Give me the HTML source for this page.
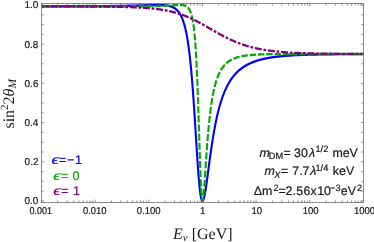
<!DOCTYPE html>
<html><head><meta charset="utf-8"><style>
html,body{margin:0;padding:0;background:#fff;}
svg{display:block;will-change:transform;opacity:0.999;font-family:"Liberation Sans",sans-serif;text-rendering:geometricPrecision;}
</style></head><body>
<svg width="374" height="242" viewBox="0 0 374 242">
<rect width="374" height="242" fill="#fff"/>
<defs><clipPath id="cp"><rect x="41.5" y="3.5" width="322.0" height="199.0"/></clipPath></defs>
<g clip-path="url(#cp)"><g transform="scale(1,1.1)" fill="none" stroke-width="2.1" stroke-linejoin="round">
<path d="M41.50,5.78 L41.84,5.78 L42.17,5.78 L42.51,5.78 L42.84,5.78 L43.18,5.78 L43.51,5.78 L43.85,5.78 L44.18,5.78 L44.52,5.78 L44.85,5.78 L45.19,5.78 L45.53,5.78 L45.86,5.78 L46.20,5.77 L46.53,5.77 L46.87,5.77 L47.20,5.77 L47.54,5.77 L47.87,5.77 L48.21,5.77 L48.54,5.77 L48.88,5.77 L49.21,5.77 L49.55,5.77 L49.89,5.77 L50.22,5.77 L50.56,5.77 L50.89,5.77 L51.23,5.77 L51.56,5.77 L51.90,5.77 L52.23,5.77 L52.57,5.77 L52.90,5.77 L53.24,5.77 L53.58,5.77 L53.91,5.77 L54.25,5.77 L54.58,5.77 L54.92,5.77 L55.25,5.77 L55.59,5.77 L55.92,5.77 L56.26,5.77 L56.59,5.77 L56.93,5.76 L57.26,5.76 L57.60,5.76 L57.94,5.76 L58.27,5.76 L58.61,5.76 L58.94,5.76 L59.28,5.76 L59.61,5.76 L59.95,5.76 L60.28,5.76 L60.62,5.76 L60.95,5.76 L61.29,5.76 L61.62,5.76 L61.96,5.76 L62.30,5.76 L62.63,5.76 L62.97,5.76 L63.30,5.76 L63.64,5.76 L63.97,5.75 L64.31,5.75 L64.64,5.75 L64.98,5.75 L65.31,5.75 L65.65,5.75 L65.99,5.75 L66.32,5.75 L66.66,5.75 L66.99,5.75 L67.33,5.75 L67.66,5.75 L68.00,5.75 L68.33,5.75 L68.67,5.75 L69.00,5.75 L69.34,5.74 L69.67,5.74 L70.01,5.74 L70.35,5.74 L70.68,5.74 L71.02,5.74 L71.35,5.74 L71.69,5.74 L72.02,5.74 L72.36,5.74 L72.69,5.74 L73.03,5.74 L73.36,5.74 L73.70,5.74 L74.04,5.73 L74.37,5.73 L74.71,5.73 L75.04,5.73 L75.38,5.73 L75.71,5.73 L76.05,5.73 L76.38,5.73 L76.72,5.73 L77.05,5.73 L77.39,5.73 L77.72,5.72 L78.06,5.72 L78.40,5.72 L78.73,5.72 L79.07,5.72 L79.40,5.72 L79.74,5.72 L80.07,5.72 L80.41,5.72 L80.74,5.72 L81.08,5.71 L81.41,5.71 L81.75,5.71 L82.09,5.71 L82.42,5.71 L82.76,5.71 L83.09,5.71 L83.43,5.71 L83.76,5.70 L84.10,5.70 L84.43,5.70 L84.77,5.70 L85.10,5.70 L85.44,5.70 L85.78,5.70 L86.11,5.70 L86.45,5.69 L86.78,5.69 L87.12,5.69 L87.45,5.69 L87.79,5.69 L88.12,5.69 L88.46,5.69 L88.79,5.68 L89.13,5.68 L89.46,5.68 L89.80,5.68 L90.14,5.68 L90.47,5.68 L90.81,5.67 L91.14,5.67 L91.48,5.67 L91.81,5.67 L92.15,5.67 L92.48,5.67 L92.82,5.66 L93.15,5.66 L93.49,5.66 L93.83,5.66 L94.16,5.66 L94.50,5.65 L94.83,5.65 L95.17,5.65 L95.50,5.65 L95.84,5.65 L96.17,5.64 L96.51,5.64 L96.84,5.64 L97.18,5.64 L97.51,5.64 L97.85,5.63 L98.19,5.63 L98.52,5.63 L98.86,5.63 L99.19,5.62 L99.53,5.62 L99.86,5.62 L100.20,5.62 L100.53,5.61 L100.87,5.61 L101.20,5.61 L101.54,5.61 L101.88,5.60 L102.21,5.60 L102.55,5.60 L102.88,5.60 L103.22,5.59 L103.55,5.59 L103.89,5.59 L104.22,5.58 L104.56,5.58 L104.89,5.58 L105.23,5.58 L105.56,5.57 L105.90,5.57 L106.24,5.57 L106.57,5.56 L106.91,5.56 L107.24,5.56 L107.58,5.55 L107.91,5.55 L108.25,5.55 L108.58,5.54 L108.92,5.54 L109.25,5.54 L109.59,5.53 L109.92,5.53 L110.26,5.52 L110.60,5.52 L110.93,5.52 L111.27,5.51 L111.60,5.51 L111.94,5.51 L112.27,5.50 L112.61,5.50 L112.94,5.49 L113.28,5.49 L113.61,5.49 L113.95,5.48 L114.29,5.48 L114.62,5.47 L114.96,5.47 L115.29,5.46 L115.63,5.46 L115.96,5.45 L116.30,5.45 L116.63,5.45 L116.97,5.44 L117.30,5.44 L117.64,5.43 L117.97,5.43 L118.31,5.42 L118.65,5.42 L118.98,5.41 L119.32,5.41 L119.65,5.40 L119.99,5.40 L120.32,5.39 L120.66,5.38 L120.99,5.38 L121.33,5.37 L121.66,5.37 L122.00,5.36 L122.34,5.36 L122.67,5.35 L123.01,5.34 L123.34,5.34 L123.68,5.33 L124.01,5.33 L124.35,5.32 L124.68,5.31 L125.02,5.31 L125.35,5.30 L125.69,5.29 L126.03,5.29 L126.36,5.28 L126.70,5.27 L127.03,5.27 L127.37,5.26 L127.70,5.25 L128.04,5.25 L128.37,5.24 L128.71,5.23 L129.04,5.23 L129.38,5.22 L129.71,5.21 L130.05,5.20 L130.39,5.20 L130.72,5.19 L131.06,5.18 L131.39,5.17 L131.73,5.17 L132.06,5.16 L132.40,5.15 L132.73,5.14 L133.07,5.13 L133.40,5.13 L133.74,5.12 L134.07,5.11 L134.41,5.10 L134.75,5.09 L135.08,5.08 L135.42,5.07 L135.75,5.07 L136.09,5.06 L136.42,5.05 L136.76,5.04 L137.09,5.03 L137.43,5.02 L137.76,5.01 L138.10,5.00 L138.44,4.99 L138.77,4.98 L139.11,4.98 L139.44,4.97 L139.78,4.96 L140.11,4.95 L140.45,4.94 L140.78,4.93 L141.12,4.92 L141.45,4.91 L141.79,4.90 L142.12,4.89 L142.46,4.88 L142.80,4.87 L143.13,4.86 L143.47,4.85 L143.80,4.84 L144.14,4.83 L144.47,4.82 L144.81,4.81 L145.14,4.80 L145.48,4.79 L145.81,4.78 L146.15,4.77 L146.49,4.76 L146.82,4.75 L147.16,4.74 L147.49,4.73 L147.83,4.72 L148.16,4.72 L148.50,4.71 L148.83,4.70 L149.17,4.69 L149.50,4.68 L149.84,4.67 L150.18,4.66 L150.51,4.65 L150.85,4.64 L151.18,4.64 L151.52,4.63 L151.85,4.62 L152.19,4.61 L152.52,4.61 L152.86,4.60 L153.19,4.59 L153.53,4.59 L153.86,4.58 L154.20,4.58 L154.54,4.57 L154.87,4.57 L155.21,4.56 L155.54,4.56 L155.88,4.55 L156.21,4.55 L156.55,4.55 L156.88,4.55 L157.22,4.55 L157.55,4.55 L157.89,4.55 L158.23,4.55 L158.56,4.55 L158.90,4.55 L159.23,4.56 L159.57,4.56 L159.90,4.57 L160.24,4.57 L160.57,4.58 L160.91,4.59 L161.24,4.60 L161.58,4.61 L161.91,4.62 L162.25,4.64 L162.59,4.65 L162.92,4.67 L163.26,4.69 L163.59,4.71 L163.93,4.73 L164.26,4.76 L164.60,4.79 L164.93,4.82 L165.27,4.85 L165.60,4.88 L165.94,4.92 L166.28,4.96 L166.61,5.00 L166.95,5.05 L167.28,5.10 L167.62,5.15 L167.95,5.21 L168.29,5.27 L168.62,5.33 L168.96,5.40 L169.29,5.47 L169.63,5.55 L169.96,5.63 L170.30,5.72 L170.64,5.82 L170.97,5.92 L171.31,6.02 L171.64,6.14 L171.98,6.26 L172.31,6.38 L172.65,6.52 L172.98,6.66 L173.32,6.82 L173.65,6.98 L173.99,7.15 L174.32,7.33 L174.66,7.52 L175.00,7.73 L175.33,7.95 L175.67,8.18 L176.00,8.42 L176.34,8.68 L176.67,8.95 L177.01,9.24 L177.34,9.55 L177.68,9.88 L178.01,10.22 L178.35,10.59 L178.69,10.98 L179.02,11.39 L179.36,11.83 L179.69,12.29 L180.03,12.78 L180.36,13.30 L180.70,13.85 L181.03,14.43 L181.37,15.05 L181.70,15.71 L182.04,16.40 L182.38,17.14 L182.71,17.93 L183.05,18.76 L183.38,19.64 L183.72,20.57 L184.05,21.56 L184.39,22.61 L184.72,23.72 L185.06,24.90 L185.39,26.15 L185.73,27.48 L186.06,28.89 L186.40,30.38 L186.74,31.96 L187.07,33.63 L187.41,35.40 L187.74,37.28 L188.08,39.26 L188.41,41.36 L188.75,43.58 L189.08,45.93 L189.42,48.40 L189.75,51.01 L190.09,53.76 L190.43,56.65 L190.76,59.70 L191.10,62.89 L191.43,66.24 L191.77,69.74 L192.10,73.40 L192.44,77.21 L192.77,81.18 L193.11,85.29 L193.44,89.54 L193.78,93.93 L194.11,98.44 L194.45,103.06 L194.79,107.77 L195.12,112.56 L195.46,117.40 L195.79,122.27 L196.13,127.14 L196.46,131.98 L196.80,136.77 L197.13,141.46 L197.47,146.04 L197.80,150.46 L198.14,154.69 L198.47,158.71 L198.81,162.48 L199.15,165.97 L199.48,169.17 L199.82,172.04 L200.15,174.59 L200.49,176.79 L200.82,178.64 L201.16,180.14 L201.49,181.29 L201.83,182.10 L202.16,182.57 L202.50,182.73 L202.84,182.58 L203.17,182.15 L203.51,181.45 L203.84,180.51 L204.18,179.35 L204.51,177.99 L204.85,176.45 L205.18,174.76 L205.52,172.93 L205.85,170.99 L206.19,168.95 L206.53,166.83 L206.86,164.65 L207.20,162.41 L207.53,160.15 L207.87,157.86 L208.20,155.55 L208.54,153.25 L208.87,150.95 L209.21,148.66 L209.54,146.39 L209.88,144.14 L210.21,141.92 L210.55,139.74 L210.89,137.59 L211.22,135.48 L211.56,133.41 L211.89,131.38 L212.23,129.39 L212.56,127.45 L212.90,125.56 L213.23,123.71 L213.57,121.90 L213.90,120.14 L214.24,118.43 L214.57,116.76 L214.91,115.13 L215.25,113.55 L215.58,112.01 L215.92,110.51 L216.25,109.05 L216.59,107.63 L216.92,106.25 L217.26,104.91 L217.59,103.61 L217.93,102.34 L218.26,101.11 L218.60,99.91 L218.94,98.75 L219.27,97.61 L219.61,96.51 L219.94,95.44 L220.28,94.40 L220.61,93.39 L220.95,92.40 L221.28,91.44 L221.62,90.51 L221.95,89.60 L222.29,88.72 L222.62,87.86 L222.96,87.02 L223.30,86.21 L223.63,85.42 L223.97,84.65 L224.30,83.89 L224.64,83.16 L224.97,82.45 L225.31,81.75 L225.64,81.08 L225.98,80.42 L226.31,79.78 L226.65,79.15 L226.99,78.54 L227.32,77.94 L227.66,77.36 L227.99,76.80 L228.33,76.24 L228.66,75.70 L229.00,75.18 L229.33,74.66 L229.67,74.16 L230.00,73.67 L230.34,73.20 L230.68,72.73 L231.01,72.28 L231.35,71.83 L231.68,71.40 L232.02,70.97 L232.35,70.56 L232.69,70.15 L233.02,69.76 L233.36,69.37 L233.69,68.99 L234.03,68.62 L234.36,68.26 L234.70,67.91 L235.04,67.56 L235.37,67.22 L235.71,66.89 L236.04,66.57 L236.38,66.25 L236.71,65.94 L237.05,65.64 L237.38,65.34 L237.72,65.05 L238.05,64.77 L238.39,64.49 L238.72,64.22 L239.06,63.95 L239.40,63.69 L239.73,63.43 L240.07,63.18 L240.40,62.93 L240.74,62.69 L241.07,62.46 L241.41,62.23 L241.74,62.00 L242.08,61.78 L242.41,61.56 L242.75,61.35 L243.09,61.14 L243.42,60.93 L243.76,60.73 L244.09,60.53 L244.43,60.34 L244.76,60.15 L245.10,59.96 L245.43,59.78 L245.77,59.60 L246.10,59.43 L246.44,59.25 L246.78,59.09 L247.11,58.92 L247.45,58.76 L247.78,58.60 L248.12,58.44 L248.45,58.29 L248.79,58.14 L249.12,57.99 L249.46,57.84 L249.79,57.70 L250.13,57.56 L250.46,57.42 L250.80,57.29 L251.14,57.15 L251.47,57.02 L251.81,56.89 L252.14,56.77 L252.48,56.65 L252.81,56.52 L253.15,56.40 L253.48,56.29 L253.82,56.17 L254.15,56.06 L254.49,55.95 L254.82,55.84 L255.16,55.73 L255.50,55.63 L255.83,55.52 L256.17,55.42 L256.50,55.32 L256.84,55.22 L257.17,55.13 L257.51,55.03 L257.84,54.94 L258.18,54.85 L258.51,54.76 L258.85,54.67 L259.19,54.58 L259.52,54.50 L259.86,54.41 L260.19,54.33 L260.53,54.25 L260.86,54.17 L261.20,54.09 L261.53,54.01 L261.87,53.94 L262.20,53.86 L262.54,53.79 L262.88,53.71 L263.21,53.64 L263.55,53.57 L263.88,53.50 L264.22,53.44 L264.55,53.37 L264.89,53.30 L265.22,53.24 L265.56,53.18 L265.89,53.11 L266.23,53.05 L266.56,52.99 L266.90,52.93 L267.24,52.87 L267.57,52.82 L267.91,52.76 L268.24,52.71 L268.58,52.65 L268.91,52.60 L269.25,52.54 L269.58,52.49 L269.92,52.44 L270.25,52.39 L270.59,52.34 L270.93,52.29 L271.26,52.24 L271.60,52.19 L271.93,52.15 L272.27,52.10 L272.60,52.06 L272.94,52.01 L273.27,51.97 L273.61,51.93 L273.94,51.88 L274.28,51.84 L274.61,51.80 L274.95,51.76 L275.29,51.72 L275.62,51.68 L275.96,51.64 L276.29,51.60 L276.63,51.57 L276.96,51.53 L277.30,51.49 L277.63,51.46 L277.97,51.42 L278.30,51.39 L278.64,51.35 L278.97,51.32 L279.31,51.29 L279.65,51.25 L279.98,51.22 L280.32,51.19 L280.65,51.16 L280.99,51.13 L281.32,51.10 L281.66,51.07 L281.99,51.04 L282.33,51.01 L282.66,50.98 L283.00,50.96 L283.34,50.93 L283.67,50.90 L284.01,50.87 L284.34,50.85 L284.68,50.82 L285.01,50.80 L285.35,50.77 L285.68,50.75 L286.02,50.72 L286.35,50.70 L286.69,50.67 L287.02,50.65 L287.36,50.63 L287.70,50.61 L288.03,50.58 L288.37,50.56 L288.70,50.54 L289.04,50.52 L289.37,50.50 L289.71,50.48 L290.04,50.46 L290.38,50.44 L290.71,50.42 L291.05,50.40 L291.39,50.38 L291.72,50.36 L292.06,50.34 L292.39,50.32 L292.73,50.31 L293.06,50.29 L293.40,50.27 L293.73,50.25 L294.07,50.24 L294.40,50.22 L294.74,50.20 L295.08,50.19 L295.41,50.17 L295.75,50.16 L296.08,50.14 L296.42,50.12 L296.75,50.11 L297.09,50.09 L297.42,50.08 L297.76,50.07 L298.09,50.05 L298.43,50.04 L298.76,50.02 L299.10,50.01 L299.44,50.00 L299.77,49.98 L300.11,49.97 L300.44,49.96 L300.78,49.95 L301.11,49.93 L301.45,49.92 L301.78,49.91 L302.12,49.90 L302.45,49.89 L302.79,49.87 L303.12,49.86 L303.46,49.85 L303.80,49.84 L304.13,49.83 L304.47,49.82 L304.80,49.81 L305.14,49.80 L305.47,49.79 L305.81,49.78 L306.14,49.77 L306.48,49.76 L306.81,49.75 L307.15,49.74 L307.49,49.73 L307.82,49.72 L308.16,49.71 L308.49,49.70 L308.83,49.69 L309.16,49.68 L309.50,49.68 L309.83,49.67 L310.17,49.66 L310.50,49.65 L310.84,49.64 L311.18,49.64 L311.51,49.63 L311.85,49.62 L312.18,49.61 L312.52,49.60 L312.85,49.60 L313.19,49.59 L313.52,49.58 L313.86,49.58 L314.19,49.57 L314.53,49.56 L314.86,49.55 L315.20,49.55 L315.54,49.54 L315.87,49.54 L316.21,49.53 L316.54,49.52 L316.88,49.52 L317.21,49.51 L317.55,49.50 L317.88,49.50 L318.22,49.49 L318.55,49.49 L318.89,49.48 L319.23,49.48 L319.56,49.47 L319.90,49.46 L320.23,49.46 L320.57,49.45 L320.90,49.45 L321.24,49.44 L321.57,49.44 L321.91,49.43 L322.24,49.43 L322.58,49.42 L322.91,49.42 L323.25,49.41 L323.59,49.41 L323.92,49.40 L324.26,49.40 L324.59,49.40 L324.93,49.39 L325.26,49.39 L325.60,49.38 L325.93,49.38 L326.27,49.37 L326.60,49.37 L326.94,49.37 L327.27,49.36 L327.61,49.36 L327.95,49.35 L328.28,49.35 L328.62,49.35 L328.95,49.34 L329.29,49.34 L329.62,49.34 L329.96,49.33 L330.29,49.33 L330.63,49.33 L330.96,49.32 L331.30,49.32 L331.64,49.32 L331.97,49.31 L332.31,49.31 L332.64,49.31 L332.98,49.30 L333.31,49.30 L333.65,49.30 L333.98,49.29 L334.32,49.29 L334.65,49.29 L334.99,49.29 L335.32,49.28 L335.66,49.28 L336.00,49.28 L336.33,49.27 L336.67,49.27 L337.00,49.27 L337.34,49.27 L337.67,49.26 L338.01,49.26 L338.34,49.26 L338.68,49.26 L339.01,49.25 L339.35,49.25 L339.69,49.25 L340.02,49.25 L340.36,49.25 L340.69,49.24 L341.03,49.24 L341.36,49.24 L341.70,49.24 L342.03,49.23 L342.37,49.23 L342.70,49.23 L343.04,49.23 L343.38,49.23 L343.71,49.22 L344.05,49.22 L344.38,49.22 L344.72,49.22 L345.05,49.22 L345.39,49.22 L345.72,49.21 L346.06,49.21 L346.39,49.21 L346.73,49.21 L347.06,49.21 L347.40,49.21 L347.74,49.20 L348.07,49.20 L348.41,49.20 L348.74,49.20 L349.08,49.20 L349.41,49.20 L349.75,49.19 L350.08,49.19 L350.42,49.19 L350.75,49.19 L351.09,49.19 L351.43,49.19 L351.76,49.19 L352.10,49.18 L352.43,49.18 L352.77,49.18 L353.10,49.18 L353.44,49.18 L353.77,49.18 L354.11,49.18 L354.44,49.18 L354.78,49.17 L355.11,49.17 L355.45,49.17 L355.79,49.17 L356.12,49.17 L356.46,49.17 L356.79,49.17 L357.13,49.17 L357.46,49.16 L357.80,49.16 L358.13,49.16 L358.47,49.16 L358.80,49.16 L359.14,49.16 L359.48,49.16 L359.81,49.16 L360.15,49.16 L360.48,49.16 L360.82,49.16 L361.15,49.15 L361.49,49.15 L361.82,49.15 L362.16,49.15 L362.49,49.15 L362.83,49.15 L363.16,49.15 L363.50,49.15" stroke="#0000ff"/>
<path d="M41.50,5.79 L41.84,5.79 L42.17,5.79 L42.51,5.79 L42.84,5.79 L43.18,5.79 L43.51,5.79 L43.85,5.79 L44.18,5.79 L44.52,5.79 L44.85,5.79 L45.19,5.79 L45.53,5.79 L45.86,5.79 L46.20,5.79 L46.53,5.79 L46.87,5.79 L47.20,5.79 L47.54,5.79 L47.87,5.79 L48.21,5.79 L48.54,5.79 L48.88,5.79 L49.21,5.79 L49.55,5.79 L49.89,5.79 L50.22,5.79 L50.56,5.79 L50.89,5.79 L51.23,5.79 L51.56,5.79 L51.90,5.79 L52.23,5.79 L52.57,5.79 L52.90,5.79 L53.24,5.79 L53.58,5.79 L53.91,5.79 L54.25,5.79 L54.58,5.79 L54.92,5.79 L55.25,5.79 L55.59,5.79 L55.92,5.79 L56.26,5.79 L56.59,5.79 L56.93,5.79 L57.26,5.79 L57.60,5.79 L57.94,5.79 L58.27,5.79 L58.61,5.79 L58.94,5.79 L59.28,5.79 L59.61,5.79 L59.95,5.79 L60.28,5.79 L60.62,5.79 L60.95,5.79 L61.29,5.79 L61.62,5.79 L61.96,5.79 L62.30,5.79 L62.63,5.79 L62.97,5.79 L63.30,5.79 L63.64,5.79 L63.97,5.79 L64.31,5.79 L64.64,5.79 L64.98,5.79 L65.31,5.79 L65.65,5.79 L65.99,5.79 L66.32,5.79 L66.66,5.79 L66.99,5.79 L67.33,5.79 L67.66,5.79 L68.00,5.79 L68.33,5.79 L68.67,5.79 L69.00,5.79 L69.34,5.79 L69.67,5.79 L70.01,5.79 L70.35,5.79 L70.68,5.79 L71.02,5.79 L71.35,5.79 L71.69,5.79 L72.02,5.79 L72.36,5.79 L72.69,5.79 L73.03,5.79 L73.36,5.79 L73.70,5.79 L74.04,5.79 L74.37,5.79 L74.71,5.79 L75.04,5.79 L75.38,5.79 L75.71,5.79 L76.05,5.79 L76.38,5.79 L76.72,5.79 L77.05,5.79 L77.39,5.79 L77.72,5.79 L78.06,5.79 L78.40,5.79 L78.73,5.79 L79.07,5.79 L79.40,5.79 L79.74,5.79 L80.07,5.79 L80.41,5.79 L80.74,5.79 L81.08,5.79 L81.41,5.79 L81.75,5.79 L82.09,5.79 L82.42,5.79 L82.76,5.79 L83.09,5.79 L83.43,5.79 L83.76,5.79 L84.10,5.79 L84.43,5.79 L84.77,5.79 L85.10,5.79 L85.44,5.79 L85.78,5.79 L86.11,5.79 L86.45,5.79 L86.78,5.79 L87.12,5.79 L87.45,5.79 L87.79,5.79 L88.12,5.79 L88.46,5.79 L88.79,5.79 L89.13,5.79 L89.46,5.79 L89.80,5.79 L90.14,5.79 L90.47,5.79 L90.81,5.79 L91.14,5.79 L91.48,5.79 L91.81,5.79 L92.15,5.79 L92.48,5.79 L92.82,5.79 L93.15,5.79 L93.49,5.79 L93.83,5.79 L94.16,5.79 L94.50,5.79 L94.83,5.79 L95.17,5.79 L95.50,5.79 L95.84,5.79 L96.17,5.79 L96.51,5.79 L96.84,5.79 L97.18,5.79 L97.51,5.79 L97.85,5.79 L98.19,5.79 L98.52,5.79 L98.86,5.79 L99.19,5.79 L99.53,5.79 L99.86,5.79 L100.20,5.79 L100.53,5.79 L100.87,5.79 L101.20,5.79 L101.54,5.79 L101.88,5.79 L102.21,5.79 L102.55,5.79 L102.88,5.79 L103.22,5.79 L103.55,5.79 L103.89,5.79 L104.22,5.79 L104.56,5.79 L104.89,5.79 L105.23,5.79 L105.56,5.79 L105.90,5.79 L106.24,5.79 L106.57,5.79 L106.91,5.79 L107.24,5.79 L107.58,5.79 L107.91,5.79 L108.25,5.79 L108.58,5.79 L108.92,5.79 L109.25,5.79 L109.59,5.79 L109.92,5.79 L110.26,5.79 L110.60,5.79 L110.93,5.79 L111.27,5.79 L111.60,5.79 L111.94,5.79 L112.27,5.79 L112.61,5.79 L112.94,5.79 L113.28,5.79 L113.61,5.79 L113.95,5.79 L114.29,5.79 L114.62,5.79 L114.96,5.78 L115.29,5.78 L115.63,5.78 L115.96,5.78 L116.30,5.78 L116.63,5.78 L116.97,5.78 L117.30,5.78 L117.64,5.78 L117.97,5.78 L118.31,5.78 L118.65,5.78 L118.98,5.78 L119.32,5.78 L119.65,5.78 L119.99,5.78 L120.32,5.78 L120.66,5.78 L120.99,5.78 L121.33,5.78 L121.66,5.78 L122.00,5.78 L122.34,5.78 L122.67,5.78 L123.01,5.78 L123.34,5.78 L123.68,5.78 L124.01,5.78 L124.35,5.77 L124.68,5.77 L125.02,5.77 L125.35,5.77 L125.69,5.77 L126.03,5.77 L126.36,5.77 L126.70,5.77 L127.03,5.77 L127.37,5.77 L127.70,5.77 L128.04,5.77 L128.37,5.77 L128.71,5.77 L129.04,5.77 L129.38,5.77 L129.71,5.76 L130.05,5.76 L130.39,5.76 L130.72,5.76 L131.06,5.76 L131.39,5.76 L131.73,5.76 L132.06,5.76 L132.40,5.76 L132.73,5.76 L133.07,5.76 L133.40,5.75 L133.74,5.75 L134.07,5.75 L134.41,5.75 L134.75,5.75 L135.08,5.75 L135.42,5.75 L135.75,5.75 L136.09,5.74 L136.42,5.74 L136.76,5.74 L137.09,5.74 L137.43,5.74 L137.76,5.74 L138.10,5.74 L138.44,5.73 L138.77,5.73 L139.11,5.73 L139.44,5.73 L139.78,5.73 L140.11,5.72 L140.45,5.72 L140.78,5.72 L141.12,5.72 L141.45,5.72 L141.79,5.71 L142.12,5.71 L142.46,5.71 L142.80,5.71 L143.13,5.70 L143.47,5.70 L143.80,5.70 L144.14,5.70 L144.47,5.69 L144.81,5.69 L145.14,5.69 L145.48,5.69 L145.81,5.68 L146.15,5.68 L146.49,5.68 L146.82,5.67 L147.16,5.67 L147.49,5.67 L147.83,5.66 L148.16,5.66 L148.50,5.65 L148.83,5.65 L149.17,5.65 L149.50,5.64 L149.84,5.64 L150.18,5.63 L150.51,5.63 L150.85,5.62 L151.18,5.62 L151.52,5.61 L151.85,5.61 L152.19,5.60 L152.52,5.60 L152.86,5.59 L153.19,5.59 L153.53,5.58 L153.86,5.58 L154.20,5.57 L154.54,5.56 L154.87,5.56 L155.21,5.55 L155.54,5.54 L155.88,5.54 L156.21,5.53 L156.55,5.52 L156.88,5.51 L157.22,5.51 L157.55,5.50 L157.89,5.49 L158.23,5.48 L158.56,5.47 L158.90,5.46 L159.23,5.45 L159.57,5.45 L159.90,5.44 L160.24,5.43 L160.57,5.42 L160.91,5.41 L161.24,5.40 L161.58,5.38 L161.91,5.37 L162.25,5.36 L162.59,5.35 L162.92,5.34 L163.26,5.33 L163.59,5.31 L163.93,5.30 L164.26,5.29 L164.60,5.27 L164.93,5.26 L165.27,5.25 L165.60,5.23 L165.94,5.22 L166.28,5.20 L166.61,5.19 L166.95,5.17 L167.28,5.16 L167.62,5.14 L167.95,5.13 L168.29,5.11 L168.62,5.09 L168.96,5.07 L169.29,5.06 L169.63,5.04 L169.96,5.02 L170.30,5.00 L170.64,4.98 L170.97,4.97 L171.31,4.95 L171.64,4.93 L171.98,4.91 L172.31,4.89 L172.65,4.87 L172.98,4.85 L173.32,4.83 L173.65,4.81 L173.99,4.79 L174.32,4.77 L174.66,4.75 L175.00,4.73 L175.33,4.72 L175.67,4.70 L176.00,4.68 L176.34,4.66 L176.67,4.64 L177.01,4.63 L177.34,4.61 L177.68,4.60 L178.01,4.59 L178.35,4.58 L178.69,4.57 L179.02,4.56 L179.36,4.55 L179.69,4.55 L180.03,4.55 L180.36,4.55 L180.70,4.55 L181.03,4.56 L181.37,4.57 L181.70,4.59 L182.04,4.61 L182.38,4.64 L182.71,4.67 L183.05,4.71 L183.38,4.76 L183.72,4.82 L184.05,4.88 L184.39,4.96 L184.72,5.05 L185.06,5.15 L185.39,5.27 L185.73,5.40 L186.06,5.55 L186.40,5.72 L186.74,5.92 L187.07,6.14 L187.41,6.38 L187.74,6.66 L188.08,6.98 L188.41,7.33 L188.75,7.73 L189.08,8.18 L189.42,8.68 L189.75,9.24 L190.09,9.88 L190.43,10.59 L190.76,11.39 L191.10,12.29 L191.43,13.30 L191.77,14.43 L192.10,15.71 L192.44,17.14 L192.77,18.76 L193.11,20.57 L193.44,22.61 L193.78,24.90 L194.11,27.48 L194.45,30.38 L194.79,33.63 L195.12,37.28 L195.46,41.36 L195.79,45.93 L196.13,51.01 L196.46,56.65 L196.80,62.89 L197.13,69.74 L197.47,77.21 L197.80,85.29 L198.14,93.93 L198.47,103.06 L198.81,112.56 L199.15,122.27 L199.48,131.98 L199.82,141.46 L200.15,150.46 L200.49,158.71 L200.82,165.97 L201.16,172.04 L201.49,176.79 L201.83,180.14 L202.16,182.10 L202.50,182.73 L202.84,182.15 L203.17,180.51 L203.51,177.99 L203.84,174.76 L204.18,170.99 L204.51,166.83 L204.85,162.41 L205.18,157.86 L205.52,153.25 L205.85,148.66 L206.19,144.14 L206.53,139.74 L206.86,135.48 L207.20,131.38 L207.53,127.45 L207.87,123.71 L208.20,120.14 L208.54,116.76 L208.87,113.55 L209.21,110.51 L209.54,107.63 L209.88,104.91 L210.21,102.34 L210.55,99.91 L210.89,97.61 L211.22,95.44 L211.56,93.39 L211.89,91.44 L212.23,89.60 L212.56,87.86 L212.90,86.21 L213.23,84.65 L213.57,83.16 L213.90,81.75 L214.24,80.42 L214.57,79.15 L214.91,77.94 L215.25,76.80 L215.58,75.70 L215.92,74.66 L216.25,73.67 L216.59,72.73 L216.92,71.83 L217.26,70.97 L217.59,70.15 L217.93,69.37 L218.26,68.62 L218.60,67.91 L218.94,67.22 L219.27,66.57 L219.61,65.94 L219.94,65.34 L220.28,64.77 L220.61,64.22 L220.95,63.69 L221.28,63.18 L221.62,62.69 L221.95,62.23 L222.29,61.78 L222.62,61.35 L222.96,60.93 L223.30,60.53 L223.63,60.15 L223.97,59.78 L224.30,59.43 L224.64,59.09 L224.97,58.76 L225.31,58.44 L225.64,58.14 L225.98,57.84 L226.31,57.56 L226.65,57.29 L226.99,57.02 L227.32,56.77 L227.66,56.52 L227.99,56.29 L228.33,56.06 L228.66,55.84 L229.00,55.63 L229.33,55.42 L229.67,55.22 L230.00,55.03 L230.34,54.85 L230.68,54.67 L231.01,54.50 L231.35,54.33 L231.68,54.17 L232.02,54.01 L232.35,53.86 L232.69,53.71 L233.02,53.57 L233.36,53.44 L233.69,53.30 L234.03,53.18 L234.36,53.05 L234.70,52.93 L235.04,52.82 L235.37,52.71 L235.71,52.60 L236.04,52.49 L236.38,52.39 L236.71,52.29 L237.05,52.19 L237.38,52.10 L237.72,52.01 L238.05,51.93 L238.39,51.84 L238.72,51.76 L239.06,51.68 L239.40,51.60 L239.73,51.53 L240.07,51.46 L240.40,51.39 L240.74,51.32 L241.07,51.25 L241.41,51.19 L241.74,51.13 L242.08,51.07 L242.41,51.01 L242.75,50.96 L243.09,50.90 L243.42,50.85 L243.76,50.80 L244.09,50.75 L244.43,50.70 L244.76,50.65 L245.10,50.61 L245.43,50.56 L245.77,50.52 L246.10,50.48 L246.44,50.44 L246.78,50.40 L247.11,50.36 L247.45,50.32 L247.78,50.29 L248.12,50.25 L248.45,50.22 L248.79,50.19 L249.12,50.16 L249.46,50.12 L249.79,50.09 L250.13,50.07 L250.46,50.04 L250.80,50.01 L251.14,49.98 L251.47,49.96 L251.81,49.93 L252.14,49.91 L252.48,49.89 L252.81,49.86 L253.15,49.84 L253.48,49.82 L253.82,49.80 L254.15,49.78 L254.49,49.76 L254.82,49.74 L255.16,49.72 L255.50,49.70 L255.83,49.68 L256.17,49.67 L256.50,49.65 L256.84,49.64 L257.17,49.62 L257.51,49.60 L257.84,49.59 L258.18,49.58 L258.51,49.56 L258.85,49.55 L259.19,49.54 L259.52,49.52 L259.86,49.51 L260.19,49.50 L260.53,49.49 L260.86,49.48 L261.20,49.46 L261.53,49.45 L261.87,49.44 L262.20,49.43 L262.54,49.42 L262.88,49.41 L263.21,49.40 L263.55,49.40 L263.88,49.39 L264.22,49.38 L264.55,49.37 L264.89,49.36 L265.22,49.35 L265.56,49.35 L265.89,49.34 L266.23,49.33 L266.56,49.33 L266.90,49.32 L267.24,49.31 L267.57,49.31 L267.91,49.30 L268.24,49.29 L268.58,49.29 L268.91,49.28 L269.25,49.28 L269.58,49.27 L269.92,49.27 L270.25,49.26 L270.59,49.26 L270.93,49.25 L271.26,49.25 L271.60,49.24 L271.93,49.24 L272.27,49.23 L272.60,49.23 L272.94,49.23 L273.27,49.22 L273.61,49.22 L273.94,49.22 L274.28,49.21 L274.61,49.21 L274.95,49.21 L275.29,49.20 L275.62,49.20 L275.96,49.20 L276.29,49.19 L276.63,49.19 L276.96,49.19 L277.30,49.18 L277.63,49.18 L277.97,49.18 L278.30,49.18 L278.64,49.17 L278.97,49.17 L279.31,49.17 L279.65,49.17 L279.98,49.16 L280.32,49.16 L280.65,49.16 L280.99,49.16 L281.32,49.16 L281.66,49.16 L281.99,49.15 L282.33,49.15 L282.66,49.15 L283.00,49.15 L283.34,49.15 L283.67,49.14 L284.01,49.14 L284.34,49.14 L284.68,49.14 L285.01,49.14 L285.35,49.14 L285.68,49.14 L286.02,49.14 L286.35,49.13 L286.69,49.13 L287.02,49.13 L287.36,49.13 L287.70,49.13 L288.03,49.13 L288.37,49.13 L288.70,49.13 L289.04,49.12 L289.37,49.12 L289.71,49.12 L290.04,49.12 L290.38,49.12 L290.71,49.12 L291.05,49.12 L291.39,49.12 L291.72,49.12 L292.06,49.12 L292.39,49.12 L292.73,49.12 L293.06,49.11 L293.40,49.11 L293.73,49.11 L294.07,49.11 L294.40,49.11 L294.74,49.11 L295.08,49.11 L295.41,49.11 L295.75,49.11 L296.08,49.11 L296.42,49.11 L296.75,49.11 L297.09,49.11 L297.42,49.11 L297.76,49.11 L298.09,49.11 L298.43,49.11 L298.76,49.11 L299.10,49.11 L299.44,49.10 L299.77,49.10 L300.11,49.10 L300.44,49.10 L300.78,49.10 L301.11,49.10 L301.45,49.10 L301.78,49.10 L302.12,49.10 L302.45,49.10 L302.79,49.10 L303.12,49.10 L303.46,49.10 L303.80,49.10 L304.13,49.10 L304.47,49.10 L304.80,49.10 L305.14,49.10 L305.47,49.10 L305.81,49.10 L306.14,49.10 L306.48,49.10 L306.81,49.10 L307.15,49.10 L307.49,49.10 L307.82,49.10 L308.16,49.10 L308.49,49.10 L308.83,49.10 L309.16,49.10 L309.50,49.10 L309.83,49.10 L310.17,49.10 L310.50,49.10 L310.84,49.10 L311.18,49.10 L311.51,49.10 L311.85,49.10 L312.18,49.10 L312.52,49.10 L312.85,49.10 L313.19,49.10 L313.52,49.10 L313.86,49.09 L314.19,49.09 L314.53,49.09 L314.86,49.09 L315.20,49.09 L315.54,49.09 L315.87,49.09 L316.21,49.09 L316.54,49.09 L316.88,49.09 L317.21,49.09 L317.55,49.09 L317.88,49.09 L318.22,49.09 L318.55,49.09 L318.89,49.09 L319.23,49.09 L319.56,49.09 L319.90,49.09 L320.23,49.09 L320.57,49.09 L320.90,49.09 L321.24,49.09 L321.57,49.09 L321.91,49.09 L322.24,49.09 L322.58,49.09 L322.91,49.09 L323.25,49.09 L323.59,49.09 L323.92,49.09 L324.26,49.09 L324.59,49.09 L324.93,49.09 L325.26,49.09 L325.60,49.09 L325.93,49.09 L326.27,49.09 L326.60,49.09 L326.94,49.09 L327.27,49.09 L327.61,49.09 L327.95,49.09 L328.28,49.09 L328.62,49.09 L328.95,49.09 L329.29,49.09 L329.62,49.09 L329.96,49.09 L330.29,49.09 L330.63,49.09 L330.96,49.09 L331.30,49.09 L331.64,49.09 L331.97,49.09 L332.31,49.09 L332.64,49.09 L332.98,49.09 L333.31,49.09 L333.65,49.09 L333.98,49.09 L334.32,49.09 L334.65,49.09 L334.99,49.09 L335.32,49.09 L335.66,49.09 L336.00,49.09 L336.33,49.09 L336.67,49.09 L337.00,49.09 L337.34,49.09 L337.67,49.09 L338.01,49.09 L338.34,49.09 L338.68,49.09 L339.01,49.09 L339.35,49.09 L339.69,49.09 L340.02,49.09 L340.36,49.09 L340.69,49.09 L341.03,49.09 L341.36,49.09 L341.70,49.09 L342.03,49.09 L342.37,49.09 L342.70,49.09 L343.04,49.09 L343.38,49.09 L343.71,49.09 L344.05,49.09 L344.38,49.09 L344.72,49.09 L345.05,49.09 L345.39,49.09 L345.72,49.09 L346.06,49.09 L346.39,49.09 L346.73,49.09 L347.06,49.09 L347.40,49.09 L347.74,49.09 L348.07,49.09 L348.41,49.09 L348.74,49.09 L349.08,49.09 L349.41,49.09 L349.75,49.09 L350.08,49.09 L350.42,49.09 L350.75,49.09 L351.09,49.09 L351.43,49.09 L351.76,49.09 L352.10,49.09 L352.43,49.09 L352.77,49.09 L353.10,49.09 L353.44,49.09 L353.77,49.09 L354.11,49.09 L354.44,49.09 L354.78,49.09 L355.11,49.09 L355.45,49.09 L355.79,49.09 L356.12,49.09 L356.46,49.09 L356.79,49.09 L357.13,49.09 L357.46,49.09 L357.80,49.09 L358.13,49.09 L358.47,49.09 L358.80,49.09 L359.14,49.09 L359.48,49.09 L359.81,49.09 L360.15,49.09 L360.48,49.09 L360.82,49.09 L361.15,49.09 L361.49,49.09 L361.82,49.09 L362.16,49.09 L362.49,49.09 L362.83,49.09 L363.16,49.09 L363.50,49.09" stroke="#00aa00" stroke-dasharray="6.4 1.9" stroke-dashoffset="2.6"/>
<path d="M41.50,5.81 L41.84,5.81 L42.17,5.81 L42.51,5.81 L42.84,5.81 L43.18,5.81 L43.51,5.81 L43.85,5.81 L44.18,5.81 L44.52,5.81 L44.85,5.81 L45.19,5.81 L45.53,5.81 L45.86,5.81 L46.20,5.81 L46.53,5.81 L46.87,5.81 L47.20,5.81 L47.54,5.81 L47.87,5.81 L48.21,5.81 L48.54,5.81 L48.88,5.81 L49.21,5.81 L49.55,5.81 L49.89,5.81 L50.22,5.81 L50.56,5.81 L50.89,5.81 L51.23,5.81 L51.56,5.82 L51.90,5.82 L52.23,5.82 L52.57,5.82 L52.90,5.82 L53.24,5.82 L53.58,5.82 L53.91,5.82 L54.25,5.82 L54.58,5.82 L54.92,5.82 L55.25,5.82 L55.59,5.82 L55.92,5.82 L56.26,5.82 L56.59,5.82 L56.93,5.82 L57.26,5.82 L57.60,5.82 L57.94,5.82 L58.27,5.82 L58.61,5.82 L58.94,5.82 L59.28,5.82 L59.61,5.82 L59.95,5.82 L60.28,5.83 L60.62,5.83 L60.95,5.83 L61.29,5.83 L61.62,5.83 L61.96,5.83 L62.30,5.83 L62.63,5.83 L62.97,5.83 L63.30,5.83 L63.64,5.83 L63.97,5.83 L64.31,5.83 L64.64,5.83 L64.98,5.83 L65.31,5.83 L65.65,5.83 L65.99,5.83 L66.32,5.84 L66.66,5.84 L66.99,5.84 L67.33,5.84 L67.66,5.84 L68.00,5.84 L68.33,5.84 L68.67,5.84 L69.00,5.84 L69.34,5.84 L69.67,5.84 L70.01,5.84 L70.35,5.84 L70.68,5.84 L71.02,5.84 L71.35,5.85 L71.69,5.85 L72.02,5.85 L72.36,5.85 L72.69,5.85 L73.03,5.85 L73.36,5.85 L73.70,5.85 L74.04,5.85 L74.37,5.85 L74.71,5.85 L75.04,5.85 L75.38,5.86 L75.71,5.86 L76.05,5.86 L76.38,5.86 L76.72,5.86 L77.05,5.86 L77.39,5.86 L77.72,5.86 L78.06,5.86 L78.40,5.86 L78.73,5.87 L79.07,5.87 L79.40,5.87 L79.74,5.87 L80.07,5.87 L80.41,5.87 L80.74,5.87 L81.08,5.87 L81.41,5.87 L81.75,5.88 L82.09,5.88 L82.42,5.88 L82.76,5.88 L83.09,5.88 L83.43,5.88 L83.76,5.88 L84.10,5.88 L84.43,5.89 L84.77,5.89 L85.10,5.89 L85.44,5.89 L85.78,5.89 L86.11,5.89 L86.45,5.89 L86.78,5.90 L87.12,5.90 L87.45,5.90 L87.79,5.90 L88.12,5.90 L88.46,5.90 L88.79,5.90 L89.13,5.91 L89.46,5.91 L89.80,5.91 L90.14,5.91 L90.47,5.91 L90.81,5.92 L91.14,5.92 L91.48,5.92 L91.81,5.92 L92.15,5.92 L92.48,5.92 L92.82,5.93 L93.15,5.93 L93.49,5.93 L93.83,5.93 L94.16,5.93 L94.50,5.94 L94.83,5.94 L95.17,5.94 L95.50,5.94 L95.84,5.95 L96.17,5.95 L96.51,5.95 L96.84,5.95 L97.18,5.95 L97.51,5.96 L97.85,5.96 L98.19,5.96 L98.52,5.96 L98.86,5.97 L99.19,5.97 L99.53,5.97 L99.86,5.97 L100.20,5.98 L100.53,5.98 L100.87,5.98 L101.20,5.99 L101.54,5.99 L101.88,5.99 L102.21,5.99 L102.55,6.00 L102.88,6.00 L103.22,6.00 L103.55,6.01 L103.89,6.01 L104.22,6.01 L104.56,6.02 L104.89,6.02 L105.23,6.02 L105.56,6.03 L105.90,6.03 L106.24,6.03 L106.57,6.04 L106.91,6.04 L107.24,6.04 L107.58,6.05 L107.91,6.05 L108.25,6.06 L108.58,6.06 L108.92,6.06 L109.25,6.07 L109.59,6.07 L109.92,6.08 L110.26,6.08 L110.60,6.08 L110.93,6.09 L111.27,6.09 L111.60,6.10 L111.94,6.10 L112.27,6.11 L112.61,6.11 L112.94,6.12 L113.28,6.12 L113.61,6.13 L113.95,6.13 L114.29,6.14 L114.62,6.14 L114.96,6.15 L115.29,6.15 L115.63,6.16 L115.96,6.16 L116.30,6.17 L116.63,6.17 L116.97,6.18 L117.30,6.19 L117.64,6.19 L117.97,6.20 L118.31,6.20 L118.65,6.21 L118.98,6.22 L119.32,6.22 L119.65,6.23 L119.99,6.24 L120.32,6.24 L120.66,6.25 L120.99,6.26 L121.33,6.26 L121.66,6.27 L122.00,6.28 L122.34,6.29 L122.67,6.29 L123.01,6.30 L123.34,6.31 L123.68,6.32 L124.01,6.32 L124.35,6.33 L124.68,6.34 L125.02,6.35 L125.35,6.36 L125.69,6.37 L126.03,6.37 L126.36,6.38 L126.70,6.39 L127.03,6.40 L127.37,6.41 L127.70,6.42 L128.04,6.43 L128.37,6.44 L128.71,6.45 L129.04,6.46 L129.38,6.47 L129.71,6.48 L130.05,6.49 L130.39,6.50 L130.72,6.51 L131.06,6.52 L131.39,6.53 L131.73,6.55 L132.06,6.56 L132.40,6.57 L132.73,6.58 L133.07,6.59 L133.40,6.61 L133.74,6.62 L134.07,6.63 L134.41,6.64 L134.75,6.66 L135.08,6.67 L135.42,6.68 L135.75,6.70 L136.09,6.71 L136.42,6.73 L136.76,6.74 L137.09,6.76 L137.43,6.77 L137.76,6.79 L138.10,6.80 L138.44,6.82 L138.77,6.83 L139.11,6.85 L139.44,6.87 L139.78,6.88 L140.11,6.90 L140.45,6.92 L140.78,6.93 L141.12,6.95 L141.45,6.97 L141.79,6.99 L142.12,7.01 L142.46,7.03 L142.80,7.05 L143.13,7.07 L143.47,7.09 L143.80,7.11 L144.14,7.13 L144.47,7.15 L144.81,7.17 L145.14,7.19 L145.48,7.21 L145.81,7.24 L146.15,7.26 L146.49,7.28 L146.82,7.30 L147.16,7.33 L147.49,7.35 L147.83,7.38 L148.16,7.40 L148.50,7.43 L148.83,7.45 L149.17,7.48 L149.50,7.51 L149.84,7.53 L150.18,7.56 L150.51,7.59 L150.85,7.62 L151.18,7.65 L151.52,7.68 L151.85,7.71 L152.19,7.74 L152.52,7.77 L152.86,7.80 L153.19,7.83 L153.53,7.86 L153.86,7.90 L154.20,7.93 L154.54,7.96 L154.87,8.00 L155.21,8.03 L155.54,8.07 L155.88,8.10 L156.21,8.14 L156.55,8.18 L156.88,8.22 L157.22,8.25 L157.55,8.29 L157.89,8.33 L158.23,8.37 L158.56,8.41 L158.90,8.46 L159.23,8.50 L159.57,8.54 L159.90,8.58 L160.24,8.63 L160.57,8.67 L160.91,8.72 L161.24,8.77 L161.58,8.81 L161.91,8.86 L162.25,8.91 L162.59,8.96 L162.92,9.01 L163.26,9.06 L163.59,9.11 L163.93,9.16 L164.26,9.22 L164.60,9.27 L164.93,9.33 L165.27,9.38 L165.60,9.44 L165.94,9.49 L166.28,9.55 L166.61,9.61 L166.95,9.67 L167.28,9.73 L167.62,9.79 L167.95,9.86 L168.29,9.92 L168.62,9.98 L168.96,10.05 L169.29,10.12 L169.63,10.18 L169.96,10.25 L170.30,10.32 L170.64,10.39 L170.97,10.46 L171.31,10.53 L171.64,10.61 L171.98,10.68 L172.31,10.76 L172.65,10.83 L172.98,10.91 L173.32,10.99 L173.65,11.07 L173.99,11.15 L174.32,11.23 L174.66,11.31 L175.00,11.39 L175.33,11.48 L175.67,11.56 L176.00,11.65 L176.34,11.74 L176.67,11.83 L177.01,11.92 L177.34,12.01 L177.68,12.10 L178.01,12.20 L178.35,12.29 L178.69,12.39 L179.02,12.48 L179.36,12.58 L179.69,12.68 L180.03,12.78 L180.36,12.88 L180.70,12.99 L181.03,13.09 L181.37,13.20 L181.70,13.30 L182.04,13.41 L182.38,13.52 L182.71,13.63 L183.05,13.74 L183.38,13.85 L183.72,13.97 L184.05,14.08 L184.39,14.20 L184.72,14.32 L185.06,14.44 L185.39,14.56 L185.73,14.68 L186.06,14.80 L186.40,14.92 L186.74,15.05 L187.07,15.17 L187.41,15.30 L187.74,15.43 L188.08,15.56 L188.41,15.69 L188.75,15.82 L189.08,15.95 L189.42,16.09 L189.75,16.22 L190.09,16.36 L190.43,16.50 L190.76,16.64 L191.10,16.78 L191.43,16.92 L191.77,17.06 L192.10,17.20 L192.44,17.35 L192.77,17.49 L193.11,17.64 L193.44,17.79 L193.78,17.93 L194.11,18.08 L194.45,18.23 L194.79,18.39 L195.12,18.54 L195.46,18.69 L195.79,18.85 L196.13,19.00 L196.46,19.16 L196.80,19.31 L197.13,19.47 L197.47,19.63 L197.80,19.79 L198.14,19.95 L198.47,20.11 L198.81,20.28 L199.15,20.44 L199.48,20.60 L199.82,20.77 L200.15,20.93 L200.49,21.10 L200.82,21.26 L201.16,21.43 L201.49,21.60 L201.83,21.77 L202.16,21.94 L202.50,22.11 L202.84,22.28 L203.17,22.45 L203.51,22.62 L203.84,22.79 L204.18,22.96 L204.51,23.14 L204.85,23.31 L205.18,23.48 L205.52,23.66 L205.85,23.83 L206.19,24.00 L206.53,24.18 L206.86,24.35 L207.20,24.53 L207.53,24.71 L207.87,24.88 L208.20,25.06 L208.54,25.23 L208.87,25.41 L209.21,25.59 L209.54,25.76 L209.88,25.94 L210.21,26.11 L210.55,26.29 L210.89,26.47 L211.22,26.64 L211.56,26.82 L211.89,27.00 L212.23,27.17 L212.56,27.35 L212.90,27.53 L213.23,27.70 L213.57,27.88 L213.90,28.05 L214.24,28.23 L214.57,28.40 L214.91,28.58 L215.25,28.75 L215.58,28.92 L215.92,29.10 L216.25,29.27 L216.59,29.44 L216.92,29.61 L217.26,29.79 L217.59,29.96 L217.93,30.13 L218.26,30.30 L218.60,30.47 L218.94,30.64 L219.27,30.81 L219.61,30.98 L219.94,31.14 L220.28,31.31 L220.61,31.48 L220.95,31.64 L221.28,31.81 L221.62,31.97 L221.95,32.13 L222.29,32.30 L222.62,32.46 L222.96,32.62 L223.30,32.78 L223.63,32.94 L223.97,33.10 L224.30,33.26 L224.64,33.42 L224.97,33.57 L225.31,33.73 L225.64,33.88 L225.98,34.04 L226.31,34.19 L226.65,34.34 L226.99,34.50 L227.32,34.65 L227.66,34.80 L227.99,34.95 L228.33,35.09 L228.66,35.24 L229.00,35.39 L229.33,35.53 L229.67,35.68 L230.00,35.82 L230.34,35.96 L230.68,36.10 L231.01,36.24 L231.35,36.38 L231.68,36.52 L232.02,36.66 L232.35,36.79 L232.69,36.93 L233.02,37.06 L233.36,37.20 L233.69,37.33 L234.03,37.46 L234.36,37.59 L234.70,37.72 L235.04,37.85 L235.37,37.97 L235.71,38.10 L236.04,38.23 L236.38,38.35 L236.71,38.47 L237.05,38.59 L237.38,38.71 L237.72,38.83 L238.05,38.95 L238.39,39.07 L238.72,39.19 L239.06,39.30 L239.40,39.42 L239.73,39.53 L240.07,39.64 L240.40,39.76 L240.74,39.87 L241.07,39.98 L241.41,40.08 L241.74,40.19 L242.08,40.30 L242.41,40.40 L242.75,40.51 L243.09,40.61 L243.42,40.71 L243.76,40.82 L244.09,40.92 L244.43,41.01 L244.76,41.11 L245.10,41.21 L245.43,41.31 L245.77,41.40 L246.10,41.50 L246.44,41.59 L246.78,41.68 L247.11,41.78 L247.45,41.87 L247.78,41.96 L248.12,42.04 L248.45,42.13 L248.79,42.22 L249.12,42.31 L249.46,42.39 L249.79,42.47 L250.13,42.56 L250.46,42.64 L250.80,42.72 L251.14,42.80 L251.47,42.88 L251.81,42.96 L252.14,43.04 L252.48,43.12 L252.81,43.19 L253.15,43.27 L253.48,43.34 L253.82,43.42 L254.15,43.49 L254.49,43.56 L254.82,43.63 L255.16,43.70 L255.50,43.77 L255.83,43.84 L256.17,43.91 L256.50,43.98 L256.84,44.04 L257.17,44.11 L257.51,44.17 L257.84,44.24 L258.18,44.30 L258.51,44.36 L258.85,44.42 L259.19,44.49 L259.52,44.55 L259.86,44.61 L260.19,44.66 L260.53,44.72 L260.86,44.78 L261.20,44.84 L261.53,44.89 L261.87,44.95 L262.20,45.00 L262.54,45.06 L262.88,45.11 L263.21,45.16 L263.55,45.22 L263.88,45.27 L264.22,45.32 L264.55,45.37 L264.89,45.42 L265.22,45.47 L265.56,45.52 L265.89,45.56 L266.23,45.61 L266.56,45.66 L266.90,45.70 L267.24,45.75 L267.57,45.79 L267.91,45.84 L268.24,45.88 L268.58,45.93 L268.91,45.97 L269.25,46.01 L269.58,46.05 L269.92,46.09 L270.25,46.13 L270.59,46.17 L270.93,46.21 L271.26,46.25 L271.60,46.29 L271.93,46.33 L272.27,46.37 L272.60,46.40 L272.94,46.44 L273.27,46.48 L273.61,46.51 L273.94,46.55 L274.28,46.58 L274.61,46.62 L274.95,46.65 L275.29,46.68 L275.62,46.72 L275.96,46.75 L276.29,46.78 L276.63,46.81 L276.96,46.84 L277.30,46.87 L277.63,46.91 L277.97,46.94 L278.30,46.96 L278.64,46.99 L278.97,47.02 L279.31,47.05 L279.65,47.08 L279.98,47.11 L280.32,47.13 L280.65,47.16 L280.99,47.19 L281.32,47.21 L281.66,47.24 L281.99,47.27 L282.33,47.29 L282.66,47.32 L283.00,47.34 L283.34,47.37 L283.67,47.39 L284.01,47.41 L284.34,47.44 L284.68,47.46 L285.01,47.48 L285.35,47.50 L285.68,47.53 L286.02,47.55 L286.35,47.57 L286.69,47.59 L287.02,47.61 L287.36,47.63 L287.70,47.65 L288.03,47.67 L288.37,47.69 L288.70,47.71 L289.04,47.73 L289.37,47.75 L289.71,47.77 L290.04,47.79 L290.38,47.80 L290.71,47.82 L291.05,47.84 L291.39,47.86 L291.72,47.88 L292.06,47.89 L292.39,47.91 L292.73,47.93 L293.06,47.94 L293.40,47.96 L293.73,47.97 L294.07,47.99 L294.40,48.01 L294.74,48.02 L295.08,48.04 L295.41,48.05 L295.75,48.06 L296.08,48.08 L296.42,48.09 L296.75,48.11 L297.09,48.12 L297.42,48.13 L297.76,48.15 L298.09,48.16 L298.43,48.17 L298.76,48.19 L299.10,48.20 L299.44,48.21 L299.77,48.22 L300.11,48.24 L300.44,48.25 L300.78,48.26 L301.11,48.27 L301.45,48.28 L301.78,48.30 L302.12,48.31 L302.45,48.32 L302.79,48.33 L303.12,48.34 L303.46,48.35 L303.80,48.36 L304.13,48.37 L304.47,48.38 L304.80,48.39 L305.14,48.40 L305.47,48.41 L305.81,48.42 L306.14,48.43 L306.48,48.44 L306.81,48.45 L307.15,48.46 L307.49,48.47 L307.82,48.48 L308.16,48.48 L308.49,48.49 L308.83,48.50 L309.16,48.51 L309.50,48.52 L309.83,48.53 L310.17,48.53 L310.50,48.54 L310.84,48.55 L311.18,48.56 L311.51,48.56 L311.85,48.57 L312.18,48.58 L312.52,48.59 L312.85,48.59 L313.19,48.60 L313.52,48.61 L313.86,48.61 L314.19,48.62 L314.53,48.63 L314.86,48.63 L315.20,48.64 L315.54,48.65 L315.87,48.65 L316.21,48.66 L316.54,48.67 L316.88,48.67 L317.21,48.68 L317.55,48.68 L317.88,48.69 L318.22,48.70 L318.55,48.70 L318.89,48.71 L319.23,48.71 L319.56,48.72 L319.90,48.72 L320.23,48.73 L320.57,48.73 L320.90,48.74 L321.24,48.74 L321.57,48.75 L321.91,48.75 L322.24,48.76 L322.58,48.76 L322.91,48.77 L323.25,48.77 L323.59,48.78 L323.92,48.78 L324.26,48.79 L324.59,48.79 L324.93,48.79 L325.26,48.80 L325.60,48.80 L325.93,48.81 L326.27,48.81 L326.60,48.81 L326.94,48.82 L327.27,48.82 L327.61,48.83 L327.95,48.83 L328.28,48.83 L328.62,48.84 L328.95,48.84 L329.29,48.84 L329.62,48.85 L329.96,48.85 L330.29,48.85 L330.63,48.86 L330.96,48.86 L331.30,48.86 L331.64,48.87 L331.97,48.87 L332.31,48.87 L332.64,48.88 L332.98,48.88 L333.31,48.88 L333.65,48.89 L333.98,48.89 L334.32,48.89 L334.65,48.89 L334.99,48.90 L335.32,48.90 L335.66,48.90 L336.00,48.91 L336.33,48.91 L336.67,48.91 L337.00,48.91 L337.34,48.92 L337.67,48.92 L338.01,48.92 L338.34,48.92 L338.68,48.93 L339.01,48.93 L339.35,48.93 L339.69,48.93 L340.02,48.93 L340.36,48.94 L340.69,48.94 L341.03,48.94 L341.36,48.94 L341.70,48.95 L342.03,48.95 L342.37,48.95 L342.70,48.95 L343.04,48.95 L343.38,48.96 L343.71,48.96 L344.05,48.96 L344.38,48.96 L344.72,48.96 L345.05,48.97 L345.39,48.97 L345.72,48.97 L346.06,48.97 L346.39,48.97 L346.73,48.97 L347.06,48.98 L347.40,48.98 L347.74,48.98 L348.07,48.98 L348.41,48.98 L348.74,48.98 L349.08,48.99 L349.41,48.99 L349.75,48.99 L350.08,48.99 L350.42,48.99 L350.75,48.99 L351.09,48.99 L351.43,49.00 L351.76,49.00 L352.10,49.00 L352.43,49.00 L352.77,49.00 L353.10,49.00 L353.44,49.00 L353.77,49.00 L354.11,49.01 L354.44,49.01 L354.78,49.01 L355.11,49.01 L355.45,49.01 L355.79,49.01 L356.12,49.01 L356.46,49.01 L356.79,49.01 L357.13,49.02 L357.46,49.02 L357.80,49.02 L358.13,49.02 L358.47,49.02 L358.80,49.02 L359.14,49.02 L359.48,49.02 L359.81,49.02 L360.15,49.03 L360.48,49.03 L360.82,49.03 L361.15,49.03 L361.49,49.03 L361.82,49.03 L362.16,49.03 L362.49,49.03 L362.83,49.03 L363.16,49.03 L363.50,49.03" stroke="#800080" stroke-dasharray="7 1.7 2.8 1.7" stroke-dashoffset="4.1"/>
</g></g>
<rect x="41.5" y="3.5" width="322.0" height="199.0" fill="none" stroke="#707070" stroke-width="0.8"/>
<path d="M41.50,202.50 L41.50,199.60 M41.50,3.50 L41.50,6.40 M57.66,202.50 L57.66,200.40 M57.66,3.50 L57.66,5.60 M67.11,202.50 L67.11,200.40 M67.11,3.50 L67.11,5.60 M73.81,202.50 L73.81,200.40 M73.81,3.50 L73.81,5.60 M79.01,202.50 L79.01,200.40 M79.01,3.50 L79.01,5.60 M83.26,202.50 L83.26,200.40 M83.26,3.50 L83.26,5.60 M86.85,202.50 L86.85,200.40 M86.85,3.50 L86.85,5.60 M89.97,202.50 L89.97,200.40 M89.97,3.50 L89.97,5.60 M92.71,202.50 L92.71,200.40 M92.71,3.50 L92.71,5.60 M95.17,202.50 L95.17,199.60 M95.17,3.50 L95.17,6.40 M111.32,202.50 L111.32,200.40 M111.32,3.50 L111.32,5.60 M120.77,202.50 L120.77,200.40 M120.77,3.50 L120.77,5.60 M127.48,202.50 L127.48,200.40 M127.48,3.50 L127.48,5.60 M132.68,202.50 L132.68,200.40 M132.68,3.50 L132.68,5.60 M136.93,202.50 L136.93,200.40 M136.93,3.50 L136.93,5.60 M140.52,202.50 L140.52,200.40 M140.52,3.50 L140.52,5.60 M143.63,202.50 L143.63,200.40 M143.63,3.50 L143.63,5.60 M146.38,202.50 L146.38,200.40 M146.38,3.50 L146.38,5.60 M148.83,202.50 L148.83,199.60 M148.83,3.50 L148.83,6.40 M164.99,202.50 L164.99,200.40 M164.99,3.50 L164.99,5.60 M174.44,202.50 L174.44,200.40 M174.44,3.50 L174.44,5.60 M181.14,202.50 L181.14,200.40 M181.14,3.50 L181.14,5.60 M186.34,202.50 L186.34,200.40 M186.34,3.50 L186.34,5.60 M190.59,202.50 L190.59,200.40 M190.59,3.50 L190.59,5.60 M194.19,202.50 L194.19,200.40 M194.19,3.50 L194.19,5.60 M197.30,202.50 L197.30,200.40 M197.30,3.50 L197.30,5.60 M200.04,202.50 L200.04,200.40 M200.04,3.50 L200.04,5.60 M202.50,202.50 L202.50,199.60 M202.50,3.50 L202.50,6.40 M218.66,202.50 L218.66,200.40 M218.66,3.50 L218.66,5.60 M228.11,202.50 L228.11,200.40 M228.11,3.50 L228.11,5.60 M234.81,202.50 L234.81,200.40 M234.81,3.50 L234.81,5.60 M240.01,202.50 L240.01,200.40 M240.01,3.50 L240.01,5.60 M244.26,202.50 L244.26,200.40 M244.26,3.50 L244.26,5.60 M247.85,202.50 L247.85,200.40 M247.85,3.50 L247.85,5.60 M250.97,202.50 L250.97,200.40 M250.97,3.50 L250.97,5.60 M253.71,202.50 L253.71,200.40 M253.71,3.50 L253.71,5.60 M256.17,202.50 L256.17,199.60 M256.17,3.50 L256.17,6.40 M272.32,202.50 L272.32,200.40 M272.32,3.50 L272.32,5.60 M281.77,202.50 L281.77,200.40 M281.77,3.50 L281.77,5.60 M288.48,202.50 L288.48,200.40 M288.48,3.50 L288.48,5.60 M293.68,202.50 L293.68,200.40 M293.68,3.50 L293.68,5.60 M297.93,202.50 L297.93,200.40 M297.93,3.50 L297.93,5.60 M301.52,202.50 L301.52,200.40 M301.52,3.50 L301.52,5.60 M304.63,202.50 L304.63,200.40 M304.63,3.50 L304.63,5.60 M307.38,202.50 L307.38,200.40 M307.38,3.50 L307.38,5.60 M309.83,202.50 L309.83,199.60 M309.83,3.50 L309.83,6.40 M325.99,202.50 L325.99,200.40 M325.99,3.50 L325.99,5.60 M335.44,202.50 L335.44,200.40 M335.44,3.50 L335.44,5.60 M342.14,202.50 L342.14,200.40 M342.14,3.50 L342.14,5.60 M347.34,202.50 L347.34,200.40 M347.34,3.50 L347.34,5.60 M351.59,202.50 L351.59,200.40 M351.59,3.50 L351.59,5.60 M355.19,202.50 L355.19,200.40 M355.19,3.50 L355.19,5.60 M358.30,202.50 L358.30,200.40 M358.30,3.50 L358.30,5.60 M361.04,202.50 L361.04,200.40 M361.04,3.50 L361.04,5.60 M363.50,202.50 L363.50,199.60 M363.50,3.50 L363.50,6.40 M41.50,201.00 L44.20,201.00 M363.50,201.00 L360.80,201.00 M41.50,191.20 L43.70,191.20 M363.50,191.20 L361.30,191.20 M41.50,181.40 L43.70,181.40 M363.50,181.40 L361.30,181.40 M41.50,171.60 L43.70,171.60 M363.50,171.60 L361.30,171.60 M41.50,161.80 L44.20,161.80 M363.50,161.80 L360.80,161.80 M41.50,152.00 L43.70,152.00 M363.50,152.00 L361.30,152.00 M41.50,142.20 L43.70,142.20 M363.50,142.20 L361.30,142.20 M41.50,132.40 L43.70,132.40 M363.50,132.40 L361.30,132.40 M41.50,122.60 L44.20,122.60 M363.50,122.60 L360.80,122.60 M41.50,112.80 L43.70,112.80 M363.50,112.80 L361.30,112.80 M41.50,103.00 L43.70,103.00 M363.50,103.00 L361.30,103.00 M41.50,93.20 L43.70,93.20 M363.50,93.20 L361.30,93.20 M41.50,83.40 L44.20,83.40 M363.50,83.40 L360.80,83.40 M41.50,73.60 L43.70,73.60 M363.50,73.60 L361.30,73.60 M41.50,63.80 L43.70,63.80 M363.50,63.80 L361.30,63.80 M41.50,54.00 L43.70,54.00 M363.50,54.00 L361.30,54.00 M41.50,44.20 L44.20,44.20 M363.50,44.20 L360.80,44.20 M41.50,34.40 L43.70,34.40 M363.50,34.40 L361.30,34.40 M41.50,24.60 L43.70,24.60 M363.50,24.60 L361.30,24.60 M41.50,14.80 L43.70,14.80 M363.50,14.80 L361.30,14.80 M41.50,5.00 L44.20,5.00 M363.50,5.00 L360.80,5.00 " stroke="#666" stroke-width="0.7" fill="none"/>
<text transform="translate(29.58,213.50) scale(0.9,1)" font-family="Liberation Sans" font-size="10" fill="#1a1a1a" stroke="#1a1a1a" stroke-width="0.22">0.001</text><text transform="translate(83.01,213.50) scale(0.94,1)" font-family="Liberation Sans" font-size="10" fill="#1a1a1a" stroke="#1a1a1a" stroke-width="0.22">0.010</text><text transform="translate(136.85,213.50) scale(0.95,1)" font-family="Liberation Sans" font-size="10" fill="#1a1a1a" stroke="#1a1a1a" stroke-width="0.22">0.100</text><text transform="translate(200.10,213.50) scale(0.96,1)" font-family="Liberation Sans" font-size="10" fill="#1a1a1a" stroke="#1a1a1a" stroke-width="0.22">1</text><text transform="translate(251.45,213.50) scale(0.96,1)" font-family="Liberation Sans" font-size="10" fill="#1a1a1a" stroke="#1a1a1a" stroke-width="0.22">10</text><text transform="translate(302.63,213.50) scale(0.95,1)" font-family="Liberation Sans" font-size="10" fill="#1a1a1a" stroke="#1a1a1a" stroke-width="0.22">100</text><text transform="translate(353.96,213.50) scale(0.95,1)" font-family="Liberation Sans" font-size="10" fill="#1a1a1a" stroke="#1a1a1a" stroke-width="0.22">1000</text>
<text transform="translate(24.49,204.20) scale(1.0,1)" font-family="Liberation Sans" font-size="10" fill="#1a1a1a" stroke="#1a1a1a" stroke-width="0.22">0.0</text><text transform="translate(24.60,165.40) scale(1.0,1)" font-family="Liberation Sans" font-size="10" fill="#1a1a1a" stroke="#1a1a1a" stroke-width="0.22">0.2</text><text transform="translate(24.39,126.20) scale(1.0,1)" font-family="Liberation Sans" font-size="10" fill="#1a1a1a" stroke="#1a1a1a" stroke-width="0.22">0.4</text><text transform="translate(24.54,87.00) scale(1.0,1)" font-family="Liberation Sans" font-size="10" fill="#1a1a1a" stroke="#1a1a1a" stroke-width="0.22">0.6</text><text transform="translate(24.53,47.80) scale(1.0,1)" font-family="Liberation Sans" font-size="10" fill="#1a1a1a" stroke="#1a1a1a" stroke-width="0.22">0.8</text><text transform="translate(24.49,8.10) scale(1.0,1)" font-family="Liberation Sans" font-size="10" fill="#1a1a1a" stroke="#1a1a1a" stroke-width="0.22">1.0</text>
<text transform="translate(51.56,164.10) scale(1.35,1)" font-family="Liberation Sans" font-size="12.5" font-style="italic" fill="#0000ff" stroke="#0000ff" stroke-width="0.22">ϵ</text><text transform="translate(58.99,164.10) scale(1.0,1)" font-family="Liberation Sans" font-size="12.5" fill="#0000ff" stroke="#0000ff" stroke-width="0.22" letter-spacing="0.7">=−1</text><text transform="translate(53.36,179.75) scale(1.35,1)" font-family="Liberation Sans" font-size="12.5" font-style="italic" fill="#00aa00" stroke="#00aa00" stroke-width="0.22">ϵ</text><text transform="translate(60.99,179.75) scale(1.0,1)" font-family="Liberation Sans" font-size="12.5" fill="#00aa00" stroke="#00aa00" stroke-width="0.22">=</text><text transform="translate(72.51,179.75) scale(1.0,1)" font-family="Liberation Sans" font-size="12.5" fill="#00aa00" stroke="#00aa00" stroke-width="0.22">0</text><text transform="translate(53.36,195.20) scale(1.35,1)" font-family="Liberation Sans" font-size="12.5" font-style="italic" fill="#800080" stroke="#800080" stroke-width="0.22">ϵ</text><text transform="translate(60.99,195.20) scale(1.0,1)" font-family="Liberation Sans" font-size="12.5" fill="#800080" stroke="#800080" stroke-width="0.22">=</text><text transform="translate(73.05,195.20) scale(1.0,1)" font-family="Liberation Sans" font-size="12.5" fill="#800080" stroke="#800080" stroke-width="0.22">1</text>
<text transform="translate(259.59,156.50) scale(1.0,1)" font-family="Liberation Sans" font-size="12.4" font-style="italic" fill="#1a1a1a" stroke="#1a1a1a" stroke-width="0.22">m</text><text transform="translate(268.75,158.60) scale(1.0,1)" font-family="Liberation Sans" font-size="9.2" fill="#1a1a1a" stroke="#1a1a1a" stroke-width="0.22">DM</text><text transform="translate(283.39,156.50) scale(1.0,1)" font-family="Liberation Sans" font-size="12.4" fill="#1a1a1a" stroke="#1a1a1a" stroke-width="0.22">=</text><text transform="translate(294.03,156.50) scale(1.0,1)" font-family="Liberation Sans" font-size="12.4" fill="#1a1a1a" stroke="#1a1a1a" stroke-width="0.22">30</text><text transform="translate(308.96,156.50) scale(1.0,1)" font-family="Liberation Sans" font-size="12.4" font-style="italic" fill="#1a1a1a" stroke="#1a1a1a" stroke-width="0.22">λ</text><text transform="translate(315.50,152.00) scale(1.0,1)" font-family="Liberation Sans" font-size="9.2" fill="#1a1a1a" stroke="#1a1a1a" stroke-width="0.22">1/2</text><text transform="translate(332.38,156.50) scale(1.0,1)" font-family="Liberation Sans" font-size="12.4" fill="#1a1a1a" stroke="#1a1a1a" stroke-width="0.22">meV</text><text transform="translate(264.49,175.05) scale(1.0,1)" font-family="Liberation Sans" font-size="12.4" font-style="italic" fill="#1a1a1a" stroke="#1a1a1a" stroke-width="0.22">m</text><text transform="translate(274.18,178.05) scale(1.0,1)" font-family="Liberation Sans" font-size="9.2" font-style="italic" fill="#1a1a1a" stroke="#1a1a1a" stroke-width="0.22">X</text><text transform="translate(280.99,175.05) scale(1.0,1)" font-family="Liberation Sans" font-size="12.4" fill="#1a1a1a" stroke="#1a1a1a" stroke-width="0.22">=</text><text transform="translate(292.26,175.05) scale(1.0,1)" font-family="Liberation Sans" font-size="12.4" fill="#1a1a1a" stroke="#1a1a1a" stroke-width="0.22">7.7</text><text transform="translate(310.36,175.05) scale(1.0,1)" font-family="Liberation Sans" font-size="12.4" font-style="italic" fill="#1a1a1a" stroke="#1a1a1a" stroke-width="0.22">λ</text><text transform="translate(315.50,170.55) scale(1.0,1)" font-family="Liberation Sans" font-size="9.2" fill="#1a1a1a" stroke="#1a1a1a" stroke-width="0.22">1/4</text><text transform="translate(332.86,175.05) scale(1.0,1)" font-family="Liberation Sans" font-size="12.4" fill="#1a1a1a" stroke="#1a1a1a" stroke-width="0.22">keV</text><text transform="translate(253.63,194.90) scale(1.0,1)" font-family="Liberation Sans" font-size="12.4" fill="#1a1a1a" stroke="#1a1a1a" stroke-width="0.22">Δm</text><text transform="translate(273.54,191.10) scale(1.0,1)" font-family="Liberation Sans" font-size="9.2" fill="#1a1a1a" stroke="#1a1a1a" stroke-width="0.22">2</text><text transform="translate(278.59,194.90) scale(1.0,1)" font-family="Liberation Sans" font-size="12.4" fill="#1a1a1a" stroke="#1a1a1a" stroke-width="0.22">=</text><text transform="translate(285.48,194.90) scale(1.0,1)" font-family="Liberation Sans" font-size="12.4" fill="#1a1a1a" stroke="#1a1a1a" stroke-width="0.22" letter-spacing="0.25">2.56</text><text transform="translate(310.46,194.90) scale(1.0,1)" font-family="Liberation Sans" font-size="12.4" fill="#1a1a1a" stroke="#1a1a1a" stroke-width="0.22">x</text><text transform="translate(317.16,194.90) scale(1.0,1)" font-family="Liberation Sans" font-size="12.4" fill="#1a1a1a" stroke="#1a1a1a" stroke-width="0.22">10</text><text transform="translate(330.05,191.10) scale(1.0,1)" font-family="Liberation Sans" font-size="9.2" fill="#1a1a1a" stroke="#1a1a1a" stroke-width="0.22">−3</text><text transform="translate(340.87,194.90) scale(1.0,1)" font-family="Liberation Sans" font-size="12.4" fill="#1a1a1a" stroke="#1a1a1a" stroke-width="0.22">eV</text><text transform="translate(356.94,191.10) scale(1.0,1)" font-family="Liberation Sans" font-size="9.2" fill="#1a1a1a" stroke="#1a1a1a" stroke-width="0.22">2</text>
<text font-family="Liberation Serif" font-size="16" fill="#1a1a1a" x="173" y="238.8"><tspan font-style="italic">E</tspan><tspan font-style="italic" font-size="11" dy="1.7">ν</tspan><tspan dy="-1.7"> [GeV]</tspan></text>
<text font-family="Liberation Serif" font-size="16" fill="#1a1a1a" transform="translate(14,128.6) rotate(-90)">sin<tspan font-size="11" dy="-6">2</tspan><tspan dy="6">2</tspan><tspan font-style="italic">θ</tspan><tspan font-style="italic" font-size="11.5" dy="2.2">M</tspan></text>
</svg></body></html>
